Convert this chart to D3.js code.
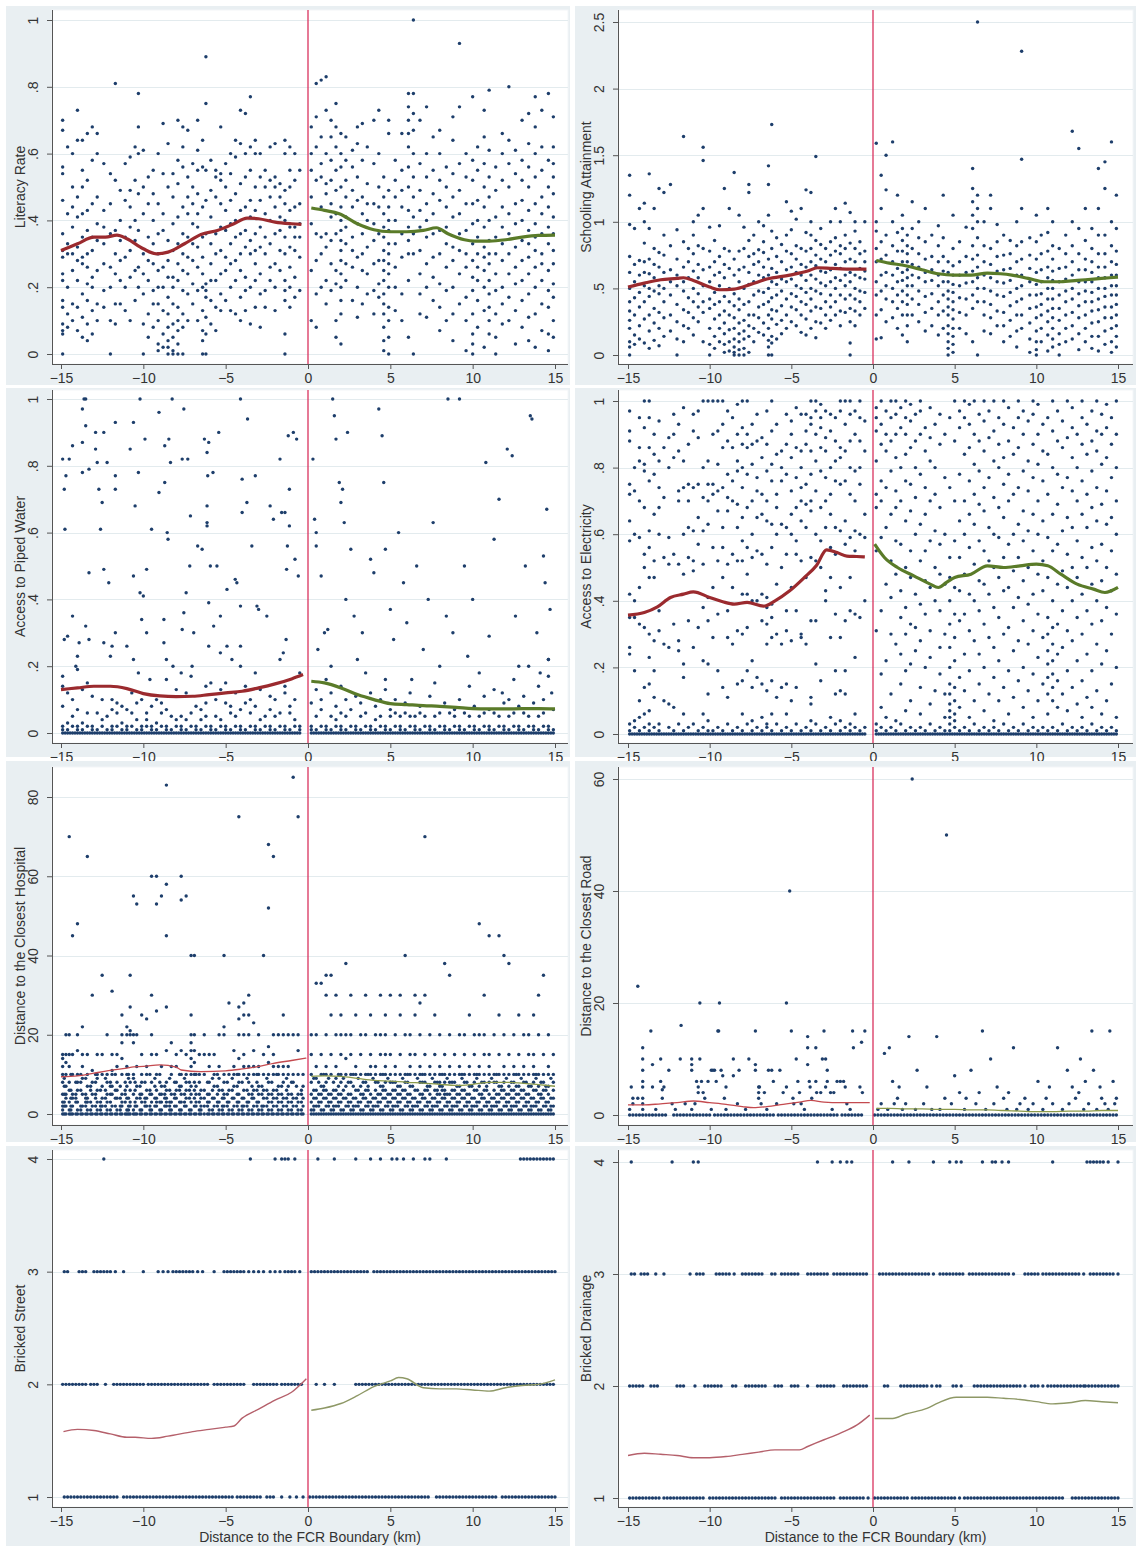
<!DOCTYPE html>
<html>
<head>
<meta charset="utf-8">
<script src="https://cdn.jsdelivr.net/npm/d3@7"></script>
<style>
body { margin: 0; background: #fff; }
text { font-family: "Liberation Sans", Arial, sans-serif; }
</style>
</head>
<body>
<svg id="chart" width="1138" height="1549"></svg>
<script>
// ---- data ----
var xTicks = [-15, -10, -5, 0, 5, 10, 15];

// column format: [x, y1, y2, ...]
var literacyLeft = [
[-14.9,0,.06,.07,.09,.14,.16,.22,.24,.29,.31,.36,.46,.54,.56,.67,.7],[-14.6,.08,.12,.2,.3,.33,.42,.62],[-14.3,.1,.15,.25,.3,.38,.44,.5,.6],
[-14.0,.07,.14,.22,.28,.32,.41,.47,.64,.73],[-13.7,.05,.11,.18,.27,.29,.35,.42,.5,.55,.64],[-13.4,.04,.09,.16,.21,.26,.3,.37,.43,.52,.66],
[-13.1,.06,.13,.2,.23,.31,.35,.45,.58,.68],[-12.8,.1,.15,.25,.34,.39,.47,.6,.66],[-12.4,.14,.19,.27,.33,.38,.43,.57],[-12.0,0,.1,.2,.26,.36,.45,.54],
[-11.7,.09,.15,.24,.3,.37,.52,.81],[-11.4,.15,.22,.28,.34,.4,.49],[-11.1,.13,.2,.29,.35,.46,.57],[-10.8,.1,.23,.31,.38,.44,.49,.59],
[-10.5,.16,.25,.34,.4,.52,.62],[-10.3,.2,.26,.37,.48,.6,.68,.78],[-10.0,0,.09,.18,.24,.3,.42,.5,.61],[-9.7,.05,.12,.22,.28,.35,.45,.53],
[-9.4,.08,.15,.19,.27,.33,.4,.48,.55],[-9.1,.01,.03,.1,.15,.2,.25,.3,.36,.45,.6],[-8.8,.02,.06,.13,.2,.26,.37,.42,.54,.69],
[-8.5,0,.02,.04,.08,.12,.17,.23,.28,.34,.5,.63],[-8.2,0,.01,.05,.09,.15,.2,.23,.31,.39,.47,.54],[-7.9,0,.03,.07,.1,.14,.22,.27,.33,.41,.51,.58,.7],
[-7.6,0,.08,.12,.19,.25,.3,.36,.44,.56,.62,.68],[-7.3,.1,.18,.24,.29,.35,.42,.47,.53,.67],[-7.0,.15,.21,.28,.33,.39,.45,.5,.57],
[-6.7,.1,.19,.26,.32,.38,.42,.48,.55,.61,.7],[-6.4,0,.04,.07,.13,.2,.24,.29,.35,.44,.56,.64],[-6.2,0,.06,.11,.17,.19,.21,.36,.46,.55,.75,.89],
[-5.9,.09,.16,.22,.27,.33,.41,.49,.58],[-5.6,.07,.14,.22,.3,.36,.47,.53,.55],[-5.3,.13,.18,.24,.31,.38,.45,.52,.54,.68],
[-5.0,.16,.25,.29,.37,.43,.5,.57],[-4.7,.13,.2,.27,.33,.39,.46,.54,.6],[-4.4,.12,.22,.28,.35,.4,.48,.59,.64],
[-4.1,.1,.17,.25,.3,.36,.43,.51,.63,.73],[-3.8,.13,.19,.23,.32,.37,.44,.53,.6,.72],[-3.5,.09,.2,.3,.34,.41,.46,.55,.62,.77],
[-3.2,.14,.22,.27,.31,.36,.43,.5,.6,.64],[-2.9,.08,.18,.24,.32,.38,.46,.53,.6],[-2.6,.14,.19,.3,.35,.42,.5,.55],
[-2.3,.22,.26,.33,.4,.47,.52,.62],[-2.0,.13,.2,.27,.36,.44,.5,.53,.63],[-1.7,.25,.31,.37,.41,.47,.51],
[-1.4,0,.06,.16,.19,.22,.3,.35,.4,.45,.49,.6,.64],[-1.1,.14,.2,.26,.32,.38,.43,.5,.55,.62],[-0.8,.17,.23,.31,.35,.38,.44,.52,.6],
[-0.5,.19,.29,.35,.39,.45,.55]
];
var literacyRight = [
[0.2,.1,.25,.39,.47,.55,.6,.68],[0.5,.08,.18,.28,.36,.52,.62,.71,.81],[0.8,.2,.3,.35,.44,.53,.57,.65,.82],
[1.1,.15,.22,.32,.36,.48,.51,.6,.73,.83],[1.4,.19,.27,.34,.41,.45,.52,.58,.65,.7],[1.7,.05,.1,.21,.25,.36,.42,.49,.55,.62,.68,.75],
[2.0,.03,.12,.16,.2,.24,.28,.31,.34,.37,.4,.44,.5,.56,.6,.66],[2.3,.22,.27,.33,.38,.41,.47,.52,.58,.65],[2.7,.16,.26,.31,.35,.44,.49,.56,.61],
[3.0,.11,.2,.29,.39,.46,.53,.63,.68],[3.3,.15,.25,.3,.36,.42,.47,.58,.69],[3.6,.18,.24,.32,.4,.45,.51,.62],
[4.0,.12,.19,.27,.34,.39,.45,.57,.7],[4.3,.17,.21,.28,.36,.44,.5,.6,.73],[4.6,.01,.04,.08,.12,.15,.18,.22,.25,.28,.31,.35,.38,.42,.47,.53],
[4.9,0,.05,.1,.14,.2,.24,.27,.3,.33,.37,.4,.44,.49,.66,.7],[5.3,.13,.2,.26,.33,.4,.47,.52,.58],[5.7,.1,.18,.29,.36,.44,.49,.55,.66],
[6.1,.05,.22,.3,.34,.38,.43,.5,.56,.62,.66,.7,.74,.78],[6.4,0,.3,.36,.41,.47,.53,.6,.67,.72,.78,1],[6.8,.12,.18,.24,.31,.38,.43,.49,.57,.7],
[7.2,.11,.2,.27,.35,.4,.45,.53,.6,.74],[7.6,.16,.23,.29,.36,.42,.48,.55,.65],[8.0,.07,.14,.21,.3,.37,.46,.52,.6,.67],
[8.4,.1,.19,.26,.33,.38,.44,.5,.56],[8.8,.04,.12,.2,.28,.32,.41,.47,.54,.64,.71],[9.2,.15,.24,.31,.36,.42,.49,.57,.74,.93],
[9.6,.01,.1,.17,.26,.3,.37,.45,.53,.6],[10.0,0,.03,.06,.12,.19,.23,.28,.33,.39,.45,.52,.58,.77],[10.3,.08,.16,.22,.26,.3,.35,.4,.46,.55,.62],
[10.7,.02,.13,.2,.25,.29,.32,.38,.44,.5,.57,.65,.73],[11.0,.06,.1,.14,.18,.22,.27,.3,.34,.4,.47,.53,.61,.79],[11.4,0,.05,.12,.19,.24,.3,.35,.41,.49,.56],
[11.8,.09,.15,.2,.28,.33,.38,.44,.52,.6,.66],[12.2,.1,.17,.24,.3,.36,.42,.5,.57,.64,.8],[12.6,.03,.13,.21,.26,.32,.39,.45,.54,.61],
[13.0,.08,.16,.22,.28,.34,.4,.46,.52,.58,.7],[13.4,.04,.11,.18,.24,.29,.33,.37,.43,.5,.56,.63,.72],[13.8,.02,.12,.2,.26,.31,.35,.39,.45,.53,.6,.68,.77],
[14.2,.07,.15,.22,.27,.3,.36,.42,.47,.55,.62,.73],[14.6,.01,.06,.14,.19,.25,.33,.38,.44,.5,.58,.78],[14.9,.05,.1,.17,.21,.27,.31,.36,.41,.48,.53,.57,.62,.71]
];
var literacySmoothL = [[-15,.31],[-14,.33],[-13,.35],[-12.3,.35],[-11.6,.356],[-11,.345],[-10,.315],[-9.2,.30],[-8.5,.305],[-7.5,.33],[-6.5,.358],[-5.5,.37],[-4.5,.39],[-3.7,.407],[-3,.405],[-2,.395],[-1,.39],[-0.4,.388]];
var literacySmoothR = [[0.2,.437],[1,.43],[1.9,.42],[3,.39],[4,.372],[5,.366],[6,.366],[7,.37],[7.8,.378],[8.5,.36],[9.5,.342],[10.1,.338],[11,.338],[12,.342],[13,.35],[14,.355],[15,.356]];

var schoolingLeft = [
[-14.9,0,.06,.1,.2,.26,.33,.4,.5,.62,.74,.98,1.2,1.35],[-14.6,.08,.15,.3,.43,.55,.68,.95],[-14.3,.12,.22,.36,.47,.6,.71,1.1],
[-14.0,.09,.27,.4,.52,.62,.7,.84,1.0,1.14],[-13.7,.05,.18,.3,.44,.5,.61,.72,.95,1.36],[-13.4,.11,.24,.35,.48,.58,.68,.8,1.1],
[-13.1,.07,.2,.32,.46,.52,.66,.77,1.25],[-12.8,.14,.28,.4,.5,.62,.75,.9,1.22],[-12.4,.18,.3,.45,.55,.64,.82,1.28],
[-12.0,0,.12,.25,.38,.52,.6,.72,.94],[-11.6,.1,.22,.34,.48,.55,.66,.85,1.64],[-11.3,.2,.32,.43,.58,.7,.8],
[-11.0,.15,.28,.4,.5,.63,.76,.9,1.0],[-10.7,.25,.36,.46,.58,.68,.82,1.05],[-10.4,.1,.32,.4,.52,.64,.8,1.1,1.46,1.56],
[-10.0,0,.08,.2,.35,.42,.55,.66,.78,.96],[-9.7,.05,.14,.27,.38,.47,.6,.7,.86],[-9.4,.1,.2,.3,.4,.52,.62,.74,.97],
[-9.1,.02,.08,.16,.24,.33,.44,.58,.68,.8,1.25],[-8.8,.03,.1,.19,.3,.4,.5,.65,.78,1.1],[-8.5,0,.02,.06,.12,.2,.28,.37,.46,.6,.72,1.37],
[-8.2,0,.04,.1,.16,.24,.34,.42,.55,.64,.78,1.05],[-7.9,0,.05,.12,.18,.26,.38,.5,.66,.8,.96],[-7.6,.02,.14,.22,.3,.4,.53,.62,.74,.86,1.22,1.28],
[-7.3,.1,.2,.3,.45,.55,.68,.76,.9],[-7.0,.17,.28,.36,.48,.6,.7,.79,1.0],[-6.7,.15,.24,.38,.47,.58,.66,.77,.85,.97],
[-6.4,0,.06,.11,.2,.3,.4,.5,.6,.72,1.05,1.28,1.42],[-6.2,0,.09,.14,.27,.34,.43,.55,.65,.8,.93,1.73],[-5.9,.12,.23,.33,.45,.53,.62,.74,.88],
[-5.6,.16,.26,.37,.48,.57,.7,.83],[-5.3,.2,.3,.42,.55,.64,.78,.9,1.15],[-5.0,.25,.36,.46,.57,.66,.76,.94,1.08],
[-4.7,.22,.34,.44,.52,.62,.72,.82,1.02],[-4.4,.17,.3,.4,.5,.6,.68,.8,1.1],[-4.1,.15,.27,.38,.47,.56,.66,.78,.92,1.24],
[-3.8,.2,.33,.42,.5,.6,.7,.8,.9,1.0,1.22],[-3.5,.13,.25,.36,.48,.57,.67,.75,.86,1.49],[-3.2,.24,.35,.46,.54,.63,.72,.83,.95],
[-2.9,.2,.3,.4,.52,.62,.7,.8],[-2.6,.26,.36,.45,.55,.64,.75,.85,1.0],[-2.3,.3,.4,.5,.58,.68,.78,.88,1.1],
[-2.0,.22,.33,.45,.56,.65,.76,.82,1.0],[-1.7,.32,.42,.52,.6,.7,.8,.9,1.14],[-1.4,0,.09,.25,.35,.45,.55,.62,.72,.84,1.07],
[-1.1,.22,.33,.42,.5,.6,.7,.8,.93,1.0],[-0.8,.3,.4,.48,.58,.65,.76,.85],[-0.5,.35,.47,.57,.63,.7,.78,1.0]
];
var schoolingRight = [
[0.2,.12,.3,.45,.55,.7,.8,.93,1.0,1.59],[0.5,.13,.34,.48,.6,.72,.85,1.1,1.35],[0.8,.25,.42,.52,.62,.75,.9,1.24,1.5],
[1.2,.28,.4,.5,.6,.7,.82,1.0,1.6],[1.5,.2,.35,.45,.55,.65,.78,.92,1.2],[1.8,.15,.3,.4,.48,.56,.62,.7,.78,.86,.95,1.05],
[2.1,.1,.22,.3,.38,.45,.52,.58,.64,.7,.76,.82,.9],[2.4,.3,.42,.52,.6,.68,.8,.95,1.15],[2.8,.25,.38,.48,.58,.66,.76,.88,1.0],
[3.2,.18,.32,.44,.55,.62,.72,.85,1.1],[3.6,.22,.35,.46,.56,.64,.74,.9],[4.0,.15,.3,.4,.52,.6,.7,.82,.97],
[4.3,.2,.33,.45,.55,.63,.74,.88,1.2],[4.6,0,.05,.1,.16,.22,.3,.36,.42,.48,.55,.62,.7],[4.9,.02,.08,.14,.2,.27,.34,.4,.47,.53,.6,.67,.8,1.05],
[5.3,.2,.32,.43,.52,.6,.7,.85],[5.7,.16,.3,.42,.54,.62,.74,.96],[6.1,.1,.35,.45,.55,.63,.72,.82,.95,1.05,1.15,1.25,1.4],
[6.4,0,.4,.5,.58,.66,.75,.88,1.0,1.1,1.2,2.5],[6.8,.18,.3,.4,.5,.6,.7,.82,1.0],[7.2,.16,.28,.38,.48,.58,.68,.8,1.1,1.2],
[7.6,.22,.33,.45,.55,.63,.74,.85,.98],[8.0,.1,.22,.32,.44,.54,.64,.75,.9],[8.4,.14,.26,.37,.47,.56,.65,.76,.86],
[8.8,.06,.18,.3,.4,.5,.6,.7,.82,1.0],[9.1,.2,.3,.42,.52,.6,.72,.85,1.1,1.47,2.28],[9.6,.02,.12,.24,.35,.45,.55,.65,.75,.88],
[10.0,0,.04,.1,.18,.28,.36,.45,.53,.62,.72,.85,1.05],[10.3,.1,.2,.3,.38,.46,.55,.64,.76,.9],[10.7,.03,.15,.25,.33,.42,.5,.58,.66,.78,.92,1.1],
[11.0,.06,.12,.2,.28,.35,.42,.5,.56,.63,.72,.82,1.0],[11.4,0,.08,.16,.26,.35,.45,.55,.65,.8],[11.8,.1,.2,.3,.4,.48,.57,.66,.76,.9],
[12.2,.12,.22,.32,.42,.5,.6,.7,.82,1.0,1.68],[12.6,.04,.16,.28,.37,.46,.55,.64,.76,.95,1.55],[13.0,.1,.2,.3,.4,.48,.55,.64,.72,.86,1.1],
[13.4,.05,.14,.24,.33,.4,.47,.55,.62,.7,.8,.95],[13.8,.03,.14,.25,.34,.42,.5,.58,.66,.76,.9,1.1,1.4],[14.2,.08,.18,.28,.36,.44,.5,.58,.66,.76,.9,1.25,1.45],
[14.6,.02,.1,.2,.28,.36,.45,.52,.6,.7,.82,1.0,1.6],[14.9,.06,.14,.22,.3,.38,.45,.52,.6,.68,.78,.95,1.2]
];
var schoolingSmoothL = [[-15,.51],[-14,.54],[-13,.565],[-12,.575],[-11.6,.58],[-11,.56],[-10,.51],[-9.4,.49],[-8.5,.495],[-7.5,.53],[-6.5,.57],[-5.1,.6],[-4,.63],[-3.4,.655],[-2.5,.65],[-1.5,.645],[-0.4,.645]];
var schoolingSmoothR = [[0.2,.71],[1,.69],[2,.67],[3,.64],[4,.61],[5,.6],[6,.6],[7,.615],[7.8,.61],[8.5,.6],[9.5,.575],[10.5,.55],[11.5,.55],[12.5,.56],[13.5,.57],[14.5,.58],[15,.585]];

// piped water: scattered points [x, y] plus dense low band in column format
var pipedLeft = [
[-14.9,.82],[-14.8,.73],[-14.7,.77],[-14.76,.61],[-14.8,.28],[-14.6,.29],[-14.9,.17],[-14.5,.82],[-14.3,.86],[-14.3,.35],[-14.1,.2],[-14.0,.23],[-13.9,.27],
[-13.7,.97],[-13.6,1],[-13.5,1],[-13.7,.87],[-13.5,.92],[-13.7,.78],[-13.3,.79],[-13.3,.48],[-13.5,.32],[-13.3,.28],[-12.9,.9],[-12.9,.85],[-12.8,.81],
[-12.7,.73],[-12.6,.61],[-12.5,.69],[-12.4,.9],[-12.4,.49],[-12.4,.27],[-12.2,.81],[-12.1,.45],[-11.7,.93],[-11.7,.77],[-11.7,.73],[-11.9,.26],[-12.0,.23],
[-11.7,.3],[-11.0,.26],[-10.8,.85],[-10.6,.93],[-10.5,.68],[-10.6,.47],[-10.6,.22],[-10.2,1],[-10.3,.78],[-10.2,.42],[-10.0,.41],[-9.9,.88],[-9.8,.49],
[-9.8,.3],[-10.1,.34],[-10.3,.18],[-9.5,.61],[-9.6,.16],[-9.05,.96],[-9.05,.72],[-8.7,.86],[-8.45,.88],[-8.55,.6],[-8.5,.58],[-8.7,.75],[-8.75,.34],
[-8.75,.27],[-8.25,1],[-8.35,.81],[-8.2,.2],[-8.6,.22],[-7.64,.82],[-7.3,.82],[-7.54,.97],[-7.4,.42],[-7.54,.36],[-7.64,.31],[-7.14,.65],[-7.18,.5],
[-7.04,.2],[-6.94,.3],[-6.7,.56],[-6.43,.55],[-6.29,.88],[-6.03,.87],[-6.13,.84],[-6.09,.77],[-6.13,.68],[-6.13,.63],[-6.13,.62],[-5.93,.5],[-6.03,.39],
[-6.03,.26],[-5.73,.32],[-5.77,.78],[-5.42,.9],[-5.53,.5],[-5.32,.24],[-5.32,.35],[-4.92,.43],[-4.92,.26],[-4.62,.22],[-4.42,.46],[-4.32,.45],[-4.1,1],
[-4.1,.38],[-4.0,.76],[-4.0,.66],[-4.1,.26],[-3.67,.94],[-3.71,.69],[-3.41,.56],[-3.2,.77],[-3.1,.38],[-3.0,.37],[-2.5,.35],[-2.3,.68],[-2.1,.64],
[-1.7,.82],[-1.6,.66],[-1.4,.66],[-1.3,.49],[-1.25,.56],[-1.33,.28],[-1.2,.89],[-0.89,.9],[-0.69,.88],[-1.13,.73],[-1.13,.62],[-1.5,.24],[-0.79,.52],[-0.59,.47]
];
var pipedRight = [
[0.3,.82],[0.4,.64],[0.5,.6],[0.5,.56],[0.8,.47],[1.0,.3],[1.2,.31],[0.6,.25],[1.4,.2],[1.5,1],[1.6,.95],[1.7,.88],[1.9,.75],[2.1,.73],[2.0,.69],
[2.2,.63],[2.4,.9],[2.6,.55],[2.3,.4],[2.8,.35],[3.0,.22],[3.3,.3],[3.5,.18],[3.8,.52],[4.0,.48],[4.3,.97],[4.5,.89],[4.7,.55],[4.6,.75],[5.0,.37],
[5.2,.28],[5.5,.6],[5.8,.45],[6.0,.33],[6.3,.16],[6.6,.5],[7.0,.25],[7.3,.4],[7.6,.63],[8.0,.2],[8.4,.35],[8.5,1],[8.8,.3],[9.2,1],[9.5,.5],
[9.7,.23],[10.0,.4],[10.4,.18],[10.8,.81],[11.0,.29],[11.3,.58],[11.6,.7],[11.8,.12],[12.1,.85],[12.4,.83],[12.6,.35],[12.8,.2],[13.2,.5],[13.5,.95],
[13.6,.94],[13.9,.3],[14.1,.18],[14.3,.53],[14.4,.45],[14.5,.67],[14.6,.22],[14.7,.37],[14.8,.12]
];
var pipedLowLeft = [
[-14.9,0,.01,.02,.08,.14],[-14.6,0,.01,.03,.12],[-14.3,0,.02,.05,.1],[-14.0,0,.01,.02,.07,.19],[-13.7,0,.01,.03,.13],[-13.4,0,.02,.06,.15],
[-13.1,0,.01,.02,.11],[-12.8,0,.01,.06],[-12.5,0,.02,.04,.1],[-12.2,0,.01,.05],[-11.9,0,.01,.02,.07,.1],[-11.6,0,.02,.06,.09],
[-11.3,0,.01,.03,.08],[-11.0,0,.01,.02,.07],[-10.7,0,.02,.06,.12],[-10.4,0,.01,.04,.09],[-10.1,0,.01,.02,.1],[-9.8,0,.02,.04,.06],
[-9.5,0,.01,.02,.08],[-9.2,0,.01,.03,.1],[-8.9,0,.02,.06,.09],[-8.6,0,.01,.02,.07,.16],[-8.3,0,.01,.05],[-8.0,0,.02,.04,.13],
[-7.7,0,.01,.02,.05,.18],[-7.4,0,.01,.04,.12],[-7.1,0,.02,.06,.17],[-6.8,0,.01,.02,.08],[-6.5,0,.01,.04,.07],[-6.2,0,.02,.05,.09,.14],
[-5.9,0,.01,.02,.15],[-5.6,0,.01,.05,.1],[-5.3,0,.02,.04,.13],[-5.0,0,.01,.02,.09,.15],[-4.7,0,.01,.06,.08],[-4.4,0,.02,.05,.12],
[-4.1,0,.01,.02,.07,.2],[-3.8,0,.01,.09,.14],[-3.5,0,.02,.06,.1],[-3.2,0,.01,.02,.08,.18],[-2.9,0,.01,.04,.13],[-2.6,0,.02,.05],
[-2.3,0,.01,.02,.07,.11],[-2.0,0,.01,.05,.1],[-1.7,0,.02,.06,.22],[-1.4,0,.01,.02,.12,.14],[-1.1,0,.01,.06,.08],[-0.8,0,.02,.04,.1],
[-0.5,0,.01,.02,.18]
];
var pipedLowRight = [
[0.2,0,.01,.02,.09],[0.5,0,.01,.05,.13],[0.8,0,.02,.07,.1],[1.1,0,.01,.02,.16],[1.4,0,.01,.05,.12],[1.7,0,.02,.04,.08],
[2.0,0,.01,.02,.06,.14],[2.3,0,.01,.05,.1],[2.6,0,.02,.07],[2.9,0,.01,.02,.11],[3.2,0,.01,.05,.09],[3.5,0,.02,.06],
[3.8,0,.01,.02,.12],[4.1,0,.01,.04,.08],[4.4,0,.02,.05,.1],[4.7,0,.01,.02,.13,.16],[5.0,0,.01,.05,.07],[5.3,0,.02,.06,.1],
[5.6,0,.01,.02,.05],[5.9,0,.01,.06,.09],[6.2,0,.02,.05,.12],[6.5,0,.01,.02,.05],[6.8,0,.01,.06,.08],[7.1,0,.02,.05],
[7.4,0,.01,.02,.11],[7.7,0,.01,.05,.15],[8.0,0,.02,.06],[8.3,0,.01,.02,.09],[8.6,0,.01,.06],[8.9,0,.02,.05,.07],
[9.2,0,.01,.02,.1],[9.5,0,.01,.06],[9.8,0,.02,.05,.14],[10.1,0,.01,.02,.08],[10.4,0,.01,.05],[10.7,0,.02,.06,.11],
[11.0,0,.01,.02,.07],[11.3,0,.01,.06,.13],[11.6,0,.02,.05],[11.9,0,.01,.02,.09],[12.2,0,.01,.05,.1],[12.5,0,.02,.06,.16],
[12.8,0,.01,.02,.08],[13.1,0,.01,.06,.11],[13.4,0,.02,.05,.2],[13.7,0,.01,.02,.09],[14.0,0,.01,.05,.14],[14.3,0,.02,.06,.1],
[14.6,0,.01,.02,.17,.22],[14.9,0,.01,.07]
];
var pipedZeroLeft = [-14.75,-14.45,-14.15,-13.85,-13.55,-13.25,-12.95,-12.65,-12.35,-12.05,-11.75,-11.45,-11.15,-10.85,-10.55,-10.25,-9.95,-9.65,-9.35,-9.05,-8.75,-8.45,-8.15,-7.85,-7.55,-7.25,-6.95,-6.65,-6.35,-6.05,-5.75,-5.45,-5.15,-4.85,-4.55,-4.25,-3.95,-3.65,-3.35,-3.05,-2.75,-2.45,-2.15,-1.85,-1.55,-1.25,-0.95,-0.65];
var pipedZeroRight = [0.35,0.65,0.95,1.25,1.55,1.85,2.15,2.45,2.75,3.05,3.35,3.65,3.95,4.25,4.55,4.85,5.15,5.45,5.75,6.05,6.35,6.65,6.95,7.25,7.55,7.85,8.15,8.45,8.75,9.05,9.35,9.65,9.95,10.25,10.55,10.85,11.15,11.45,11.75,12.05,12.35,12.65,12.95,13.25,13.55,13.85,14.15,14.45,14.75];
var pipedSmoothL = [[-15,.13],[-14,.135],[-13,.14],[-12,.14],[-11,.133],[-10,.118],[-9,.111],[-8,.109],[-7,.11],[-6,.115],[-5,.12],[-4,.125],[-3,.135],[-2,.147],[-1,.162],[-0.3,.175]];
var pipedSmoothR = [[0.2,.155],[1,.15],[2,.135],[3,.115],[4,.1],[5,.088],[6,.085],[7,.082],[8,.08],[9,.077],[10,.073],[11,.072],[12,.072],[13,.073],[14,.073],[15,.072]];

var electricityLeft = [
[-14.9,0,.01,.03,.24,.26,.35,.42,.58,.64,.72,.75,.88,.91,.97],[-14.6,0,.02,.04,.19,.35,.4,.6,.73,.8],[-14.3,0,.01,.05,.1,.33,.44,.59,.7,.82,.86,.95],
[-14.0,0,.02,.06,.14,.32,.5,.54,.68,.79,.81,.92,1],[-13.7,0,.01,.03,.07,.15,.23,.3,.47,.56,.61,.76,.86,.95,1],[-13.4,0,.02,.11,.19,.28,.47,.52,.66,.78,.84,.9],
[-13.1,0,.01,.03,.31,.37,.6,.68,.74,.82,.94],[-12.8,0,.1,.27,.53,.71,.86],[-12.5,0,.02,.09,.26,.51,.59,.8,.89],
[-12.2,0,.01,.08,.33,.54,.83,.9,.96],[-11.9,0,.03,.25,.28,.51,.7,.73,.85,.93],[-11.6,0,.01,.06,.17,.21,.48,.6,.74,.82,.98],
[-11.3,0,.02,.34,.53,.62,.7,.75,.87],[-11.0,0,.03,.26,.49,.52,.61,.74,.91,.96],[-10.7,0,.01,.32,.57,.65,.75,.89,.97],
[-10.4,0,.02,.06,.22,.38,.51,.61,.71,.8,1],[-10.1,0,.01,.04,.12,.21,.34,.41,.63,.7,.75,.82,1],[-9.8,0,.01,.29,.44,.56,.72,.75,.9,1],
[-9.5,0,.02,.19,.36,.52,.67,.73,.81,.91,1],[-9.2,0,.01,.14,.47,.56,.62,.74,.86,.93,1],[-8.9,0,.03,.11,.29,.37,.51,.67,.71,.78,.88,.97],
[-8.6,0,.01,.27,.44,.54,.7,.76,.86,.95],[-8.3,0,.02,.15,.31,.52,.62,.69,.79,.82,.9,.99],[-8.0,0,.01,.06,.16,.3,.42,.52,.58,.65,.74,.8,.87,.92,1],
[-7.7,0,.03,.19,.32,.42,.48,.56,.68,.78,.86,.9,1],[-7.4,0,.01,.04,.14,.22,.4,.53,.6,.7,.81,.87,.93],[-7.1,0,.02,.17,.4,.55,.65,.73,.77,.88,.96],
[-6.8,0,.01,.05,.15,.34,.42,.54,.66,.72,.83,.89],[-6.5,0,.02,.03,.13,.27,.33,.38,.41,.51,.64,.7,.79,.87,.97],[-6.2,0,.01,.06,.16,.29,.35,.39,.56,.63,.76,.81,.91,1],
[-5.9,0,.03,.11,.3,.45,.6,.68,.72,.84,.93],[-5.6,0,.01,.14,.27,.5,.63,.76,.8,.85],[-5.3,0,.02,.06,.15,.31,.37,.54,.62,.78,.87,.96],
[-5.0,0,.01,.1,.28,.44,.6,.66,.73,.83,.9,.94],[-4.7,0,.03,.14,.37,.54,.58,.68,.77,.86,.98],[-4.4,0,.01,.29,.3,.52,.64,.7,.74,.8,.85,.96],
[-4.1,0,.02,.27,.47,.62,.69,.75,.87,.91,.96],[-3.8,0,.01,.04,.09,.11,.34,.53,.67,.7,.78,.85,.93,.95,1],[-3.5,0,.03,.21,.34,.52,.6,.73,.82,.9,.97,1],
[-3.2,0,.01,.16,.5,.58,.68,.79,.86,.92,.95,.99],[-2.9,0,.02,.4,.43,.62,.7,.77,.85,.89,.97],[-2.6,0,.01,.05,.29,.47,.56,.66,.72,.8,.91,.96],
[-2.3,0,.03,.12,.19,.36,.54,.62,.76,.82,.88,.95],[-2.0,0,.01,.04,.13,.29,.44,.61,.75,.83,.86,.97,1],[-1.7,0,.02,.12,.19,.34,.57,.64,.76,.85,.93,1],
[-1.4,0,.01,.03,.37,.47,.59,.72,.8,.88,.96,1],[-1.1,0,.02,.06,.23,.36,.55,.61,.7,.79,.9,.97],[-0.8,0,.01,.35,.6,.75,.8,.88,.95,1],
[-0.5,0,.02,.4,.59,.66,.85,.94]
];
var electricityRight = [
[0.2,0,.01,.03,.31,.55,.68,.72,.82,.91,.95,.98],[0.5,0,.02,.08,.18,.37,.59,.7,.76,.87,.93,1],[0.8,0,.01,.05,.22,.45,.62,.74,.85,.9,.97],
[1.1,0,.02,.12,.3,.41,.52,.66,.79,.88,.95,1],[1.4,0,.01,.04,.27,.48,.58,.68,.73,.83,.9,.96,1],[1.7,0,.03,.15,.24,.35,.43,.57,.7,.8,.92,.98],
[2.0,0,.01,.07,.19,.3,.38,.5,.64,.76,.84,.9,.95,1],[2.3,0,.02,.1,.21,.33,.47,.55,.67,.75,.86,.94,.99],[2.6,0,.01,.25,.32,.42,.6,.71,.8,.88,.96],
[2.9,0,.02,.06,.14,.28,.39,.52,.63,.78,.9,.97,1],[3.2,0,.01,.2,.36,.46,.55,.66,.74,.85,.92],[3.5,0,.03,.09,.23,.31,.44,.58,.7,.82,.89,.98],
[3.8,0,.01,.13,.4,.5,.61,.72,.8,.93],[4.1,0,.02,.18,.26,.37,.48,.57,.68,.87,.96],[4.4,0,.01,.05,.12,.3,.45,.6,.77,.9],
[4.7,0,.01,.03,.05,.07,.09,.12,.15,.2,.26,.33,.4,.47,.53,.74,.95],[5.0,0,.02,.04,.06,.1,.14,.22,.29,.36,.44,.58,.7,.88,1],[5.3,0,.01,.08,.17,.34,.43,.53,.64,.78,.92,.97],
[5.6,0,.02,.13,.24,.36,.48,.6,.7,.84,.95,1],[5.9,0,.01,.05,.19,.31,.42,.56,.66,.76,.86,.93,.99],[6.2,0,.03,.1,.28,.4,.51,.63,.72,.81,.9,1],
[6.5,0,.01,.15,.24,.37,.46,.58,.69,.79,.88,.96],[6.8,0,.02,.07,.2,.33,.45,.55,.67,.74,.85,.94,1],[7.1,0,.01,.12,.29,.42,.52,.62,.77,.89,.97],
[7.4,0,.02,.04,.17,.26,.38,.5,.6,.71,.82,.91,1],[7.7,0,.01,.1,.22,.35,.47,.59,.68,.8,.87,.95],[8.0,0,.03,.14,.3,.43,.53,.65,.75,.83,.93,1],
[8.3,0,.01,.06,.19,.32,.44,.57,.7,.78,.88,.98],[8.6,0,.02,.11,.25,.38,.49,.6,.72,.84,.92],[8.9,0,.01,.16,.28,.41,.53,.63,.74,.86,.95,1],
[9.2,0,.03,.08,.2,.34,.46,.58,.67,.79,.9,.97],[9.5,0,.01,.13,.27,.39,.5,.61,.73,.82,.94],[9.8,0,.02,.05,.18,.31,.42,.55,.66,.77,.87,.96,1],
[10.1,0,.01,.1,.23,.36,.48,.6,.7,.81,.9,.99],[10.4,0,.02,.15,.29,.43,.52,.64,.76,.85,.93],[10.7,0,.01,.06,.12,.17,.21,.25,.3,.35,.47,.59,.72,.84,.95],
[11.0,0,.02,.1,.14,.18,.22,.27,.32,.4,.55,.66,.8,.91,1],[11.3,0,.01,.08,.16,.24,.33,.45,.57,.69,.78,.88,.97],[11.6,0,.03,.12,.26,.37,.49,.61,.74,.86,.94],
[11.9,0,.01,.07,.19,.31,.44,.54,.65,.77,.89,1],[12.2,0,.02,.14,.28,.4,.5,.62,.73,.83,.92,.98],[12.5,0,.01,.09,.22,.35,.47,.58,.7,.8,.9],
[12.8,0,.02,.05,.16,.3,.42,.53,.66,.76,.87,.95,1],[13.1,0,.01,.11,.24,.37,.5,.62,.72,.84,.93],[13.4,0,.03,.08,.19,.33,.45,.56,.68,.79,.88,.97],
[13.7,0,.01,.13,.27,.4,.52,.64,.74,.85,.91,1],[14.0,0,.02,.06,.21,.34,.46,.57,.69,.81,.9,.96],[14.3,0,.01,.1,.25,.38,.5,.63,.73,.83,.92,.99],
[14.6,0,.02,.15,.3,.43,.55,.65,.77,.87,.95],[14.9,0,.01,.05,.2,.36,.48,.6,.7,.8,.9,1]
];
var electricityZeroLeft = [-14.75,-14.45,-14.15,-13.85,-13.55,-13.25,-12.95,-12.65,-12.35,-12.05,-11.75,-11.45,-11.15,-10.85,-10.55,-10.25,-9.95,-9.65,-9.35,-9.05,-8.75,-8.45,-8.15,-7.85,-7.55,-7.25,-6.95,-6.65,-6.35,-6.05,-5.75,-5.45,-5.15,-4.85,-4.55,-4.25,-3.95,-3.65,-3.35,-3.05,-2.75,-2.45,-2.15,-1.85,-1.55,-1.25,-0.95,-0.65];
var electricityZeroRight = [0.35,0.65,0.95,1.25,1.55,1.85,2.15,2.45,2.75,3.05,3.35,3.65,3.95,4.25,4.55,4.85,5.15,5.45,5.75,6.05,6.35,6.65,6.95,7.25,7.55,7.85,8.15,8.45,8.75,9.05,9.35,9.65,9.95,10.25,10.55,10.85,11.15,11.45,11.75,12.05,12.35,12.65,12.95,13.25,13.55,13.85,14.15,14.45,14.75];
var electricitySmoothL = [[-15,.357],[-14,.365],[-13.2,.382],[-12.4,.41],[-11.6,.42],[-11,.427],[-10,.41],[-9.2,.397],[-8.5,.39],[-7.7,.395],[-6.7,.384],[-6,.4],[-5.1,.43],[-4.2,.47],[-3.45,.507],[-2.84,.553],[-2.2,.545],[-1.6,.534],[-1,.533],[-0.5,.532]];
var electricitySmoothR = [[0.1,.57],[0.7,.53],[1.5,.5],[2.5,.475],[3.5,.45],[4,.44],[4.5,.455],[5,.47],[6,.48],[7,.505],[8,.5],[9,.505],[10,.51],[10.7,.505],[11.5,.48],[12.5,.45],[13.5,.435],[14.2,.425],[15,.44]];

var hospitalLeft = [
[-14.9,0,1,2,3,5,8,10,12,14,15],[-14.7,0,2,4,5,7,10,13,15,20],[-14.5,0,1,3,6,8,12,15,20,70],[-14.3,0,2,4,5,10,15,45],
[-14.0,0,1,3,6,8,10,16,20,48],[-13.7,0,2,5,9,12,15,22],[-13.4,0,1,3,4,7,10,15,65],[-13.1,0,2,5,8,11,30],
[-12.8,0,1,3,6,9,10,15],[-12.5,0,2,4,7,10,15,35],[-12.2,0,1,3,5,8,10,20],[-11.9,0,2,5,7,10,11,15,31],
[-11.6,0,1,4,6,8,12,15],[-11.3,0,2,3,5,10,14,18,20,25],[-11.0,0,1,4,7,10,12,20,22],[-10.8,0,2,3,6,8,20,21,27,35],
[-10.6,0,1,5,9,10,18,20,55],[-10.4,0,2,4,7,12,20,53],[-10.1,0,1,3,5,8,10,15,25],[-9.8,0,2,4,6,10,12,24],
[-9.5,0,1,3,5,8,15,20,30,60],[-9.2,0,2,3,4,6,10,15,26,53,60],[-8.9,0,1,3,5,7,12,55],[-8.6,0,2,3,4,6,8,16,27,45,58,83],
[-8.3,0,1,3,5,10,12,18],[-8.0,0,2,4,6,8,12,15],[-7.7,0,1,3,5,7,10,16,54,60],[-7.4,0,2,4,6,8,10,15,55],
[-7.1,0,1,3,5,7,10,12,14,16,18,20,25,40],[-6.9,0,2,4,6,8,10,13,16,20,40],[-6.6,0,1,3,5,8,10,15],[-6.3,0,2,4,6,10,15,20],
[-6.0,0,1,3,5,8,12,15],[-5.7,0,2,4,7,10,15],[-5.4,0,1,3,6,9,12,20],[-5.1,0,2,4,5,8,10,20,22,40],
[-4.8,0,1,3,6,10,28],[-4.5,0,2,4,7,10,12,16],[-4.2,0,1,3,5,8,10,14,20,24,27,75],[-3.9,0,2,4,6,10,12,15,20,25,28],
[-3.6,0,1,3,5,8,10,12,20,25,30],[-3.3,0,2,4,6,10,12,16,23],[-3.0,0,1,3,5,7,10,12,20],[-2.7,0,2,4,6,10,15,40],
[-2.4,0,1,3,5,8,10,13,17,52,68],[-2.1,0,2,4,6,10,12,15,20,65],[-1.8,0,1,3,5,7,10,12,20],[-1.5,0,2,4,8,10,12,20,25],
[-1.2,0,1,3,5,7,10,12,20],[-0.9,0,2,4,8,10,20,85],[-0.6,0,1,3,5,10,16,20,75],[-0.3,0,2,4,7,10]
];
var hospitalDenseLeft = [
[-14.8,0,2,3,5,7,9],[-14.4,0,1,2,4,6,10],[-14.1,0,3,4,5,8],[-13.8,0,1,2,6,8,10],[-13.5,0,2,3,4,5,9],[-13.2,0,1,3,6,7],[-12.9,0,2,4,5,8,10],
[-12.6,0,1,2,3,6],[-12.3,0,2,4,6,9],[-12.0,0,1,3,5,7,8],[-11.7,0,2,4,6,10],[-11.4,0,1,2,4,7],[-11.1,0,3,5,6,8],[-10.9,0,1,2,4,9,10],
[-10.5,0,2,3,6,8],[-10.2,0,1,4,5,7],[-9.9,0,2,3,4,8],[-9.6,0,1,2,5,6,10],[-9.3,0,2,4,7,9],[-9.0,0,1,3,5,8,10],[-8.7,0,2,4,5,7],
[-8.4,0,1,2,3,6,9],[-8.1,0,2,4,5,8],[-7.8,0,1,3,6,7,10],[-7.5,0,2,3,5,9],[-7.2,0,1,4,6,8],[-6.8,0,2,3,5,7,10],[-6.5,0,1,2,4,6],
[-6.1,0,2,3,5,8],[-5.8,0,1,4,6,9],[-5.5,0,2,3,5,7,10],[-5.2,0,1,2,4,6],[-4.9,0,2,3,5,8],[-4.6,0,1,4,6,9],[-4.3,0,2,3,5,7,10],
[-4.0,0,1,2,4,8],[-3.7,0,2,3,6,9],[-3.4,0,1,4,5,7],[-3.1,0,2,3,6,8,10],[-2.8,0,1,2,5,7],[-2.5,0,2,4,6,9],[-2.2,0,1,3,5,8],
[-1.9,0,2,4,6,10],[-1.6,0,1,3,5,7],[-1.3,0,2,4,6,9],[-1.0,0,1,3,5,8],[-0.7,0,2,4,7],[-0.4,0,1,3,5,6]
];
var hospitalRight = [
[0.2,0,1,3,5,8,10,15,20],[0.5,0,2,4,6,9,12,20,33],[0.8,0,1,3,5,7,10,15,33],[1.1,0,2,4,6,8,10,12,20,30,35],
[1.4,0,1,3,5,10,15,25,35],[1.7,0,2,4,6,9,12,20,30],[2.0,0,1,3,5,8,10,15,20,25],[2.3,0,2,4,7,10,14,20,38],
[2.6,0,1,3,5,8,10,15,20,30],[2.9,0,2,4,6,10,12,25],[3.2,0,1,3,5,7,10,15,20],[3.5,0,2,4,6,8,10,20,30],
[3.8,0,1,3,5,10,12,15,25],[4.1,0,2,4,6,8,10,12,20],[4.4,0,1,3,5,7,10,15,20,30],[4.7,0,2,4,6,8,10,12,15,20,25],
[5.0,0,1,3,5,8,10,15,30],[5.3,0,2,4,6,8,10,12,20],[5.6,0,1,3,5,7,10,15,25,30],[5.9,0,2,4,6,8,10,20,40],
[6.2,0,1,3,5,7,10,12,15,20],[6.5,0,2,4,6,10,15,25,30],[6.8,0,1,3,5,8,10,12,20,28],[7.1,0,2,4,6,8,10,15,30,70],
[7.4,0,1,3,5,7,10,12,20],[7.7,0,2,4,6,8,10,15,25],[8.0,0,1,3,5,7,8,10,12,20],[8.3,0,2,4,5,6,8,10,15,38],
[8.6,0,1,3,5,8,10,12,20,35],[8.9,0,2,4,6,8,10,15],[9.2,0,1,3,5,7,10,12,20],[9.5,0,2,4,6,8,10,15,20],
[9.8,0,1,3,5,7,10,12,25],[10.1,0,2,4,6,8,10,15,20],[10.4,0,1,3,5,7,10,12,20,48],[10.7,0,2,4,6,8,10,15,20,30],
[11.0,0,1,3,5,8,10,12,15,45],[11.3,0,2,4,6,8,10,20],[11.6,0,1,3,5,7,10,15,25,45],[11.9,0,2,4,6,8,10,12,20,40],
[12.2,0,1,3,5,7,10,15,38],[12.5,0,2,4,6,8,10,12,20],[12.8,0,1,3,5,7,10,15,25],[13.1,0,2,4,6,8,10,12,20],
[13.4,0,1,3,5,7,10,15,20],[13.7,0,2,4,6,8,10,12,15,25],[14.0,0,1,3,5,7,10,20,30],[14.3,0,2,4,6,8,10,15,35],
[14.6,0,1,3,5,7,10,12,20],[14.9,0,2,4,6,8,10,15]
];
var hospitalDenseRight = [
[0.35,0,1,2,4,6,9],[0.65,0,2,3,5,8],[0.95,0,1,4,6,7,10],[1.25,0,2,3,5,9],[1.55,0,1,2,4,6,8],[1.85,0,2,3,5,7,10],[2.15,0,1,4,6,9],
[2.45,0,2,3,5,8],[2.75,0,1,2,4,7,10],[3.05,0,2,3,6,9],[3.35,0,1,4,5,8],[3.65,0,2,3,6,7,10],[3.95,0,1,2,4,9],[4.25,0,2,3,5,8],
[4.55,0,1,4,6,7,10],[4.85,0,2,3,5,9],[5.15,0,1,2,4,6,8],[5.45,0,2,3,5,7],[5.75,0,1,4,6,9],[6.05,0,2,3,5,8,10],[6.35,0,1,2,4,7],
[6.65,0,2,3,6,9],[6.95,0,1,4,5,8,10],[7.25,0,2,3,6,7],[7.55,0,1,2,4,9],[7.85,0,2,3,5,6,8],[8.15,0,1,4,6,7,10],[8.45,0,2,3,5,9],
[8.75,0,1,2,4,6,8],[9.05,0,2,3,5,7],[9.35,0,1,4,6,9,10],[9.65,0,2,3,5,8],[9.95,0,1,2,4,7],[10.25,0,2,3,6,9,10],[10.55,0,1,4,5,8],
[10.85,0,2,3,6,7],[11.15,0,1,2,4,9],[11.45,0,2,3,5,8,10],[11.75,0,1,4,6,7],[12.05,0,2,3,5,9],[12.35,0,1,2,4,6,8],[12.65,0,2,3,5,7,10],
[12.95,0,1,4,6,9],[13.25,0,2,3,5,8],[13.55,0,1,2,4,7],[13.85,0,2,3,6,9,10],[14.15,0,1,4,5,8],[14.45,0,2,3,6,7],[14.75,0,1,2,4,9]
];
var hospitalSmoothL = [[-15,9.4],[-14,9.6],[-13,10.3],[-12,11],[-11,11.6],[-10.6,11.9],[-10,12],[-9,12.4],[-8,11.8],[-7.7,11.1],[-6.5,10.7],[-5,10.9],[-4.1,11.3],[-3,12],[-2.1,12.8],[-1,13.5],[-0.1,14.1]];
var hospitalSmoothR = [[0.2,9.5],[1,9.6],[2,9.5],[3,9],[4,8.5],[5,8.3],[6,8],[7,7.8],[8,7.5],[9,7.2],[10,7.5],[11,8],[12,8],[13,7.8],[14,7.4],[15,7]];

var roadLeft = [
[-14.8,5],[-14.7,3],[-14.7,2],[-14.4,3],[-14.4,23],[-14.1,8],[-14.1,12],[-14.1,10],[-14.1,6],[-14.1,5],[-14.1,3],[-14.1,2],[-14.1,1],[-13.6,15],
[-13.5,9],[-13.5,5],[-13.0,10],[-13.0,6],[-12.9,4.5],[-12.9,3],[-12.8,5],[-12.5,8],[-12.3,2],[-12.1,1],[-11.8,10],[-11.75,16],[-11.1,10],[-11.1,9],
[-11.1,8],[-11.1,1],[-10.9,2],[-10.8,6],[-10.7,5],[-10.7,4],[-10.6,20],[-10.6,10],[-10.5,6],[-10.4,4],[-10.3,3],[-10.1,6],[-9.9,8],[-9.8,8],[-9.7,8],
[-9.6,6],[-9.5,15],[-9.45,15],[-9.4,20],[-9.3,8],[-9.2,7],[-9.0,5],[-9.1,3],[-9.0,1],[-8.55,10],[-8.55,7],[-8.2,8],[-7.8,1],[-7.6,10],[-7.2,15],
[-7.2,9],[-7.2,8],[-7.0,5],[-7.0,4],[-6.95,5],[-7.0,3],[-6.85,2],[-6.65,4],[-6.4,8],[-6.2,8],[-6.1,6],[-5.7,8],[-5.5,4],[-5.3,5],[-5.3,20],[-5.1,40],
[-5.0,15],[-4.9,3],[-4.85,2],[-4.7,10],[-4.6,6],[-4.5,4],[-4.4,2],[-4.0,14],[-4.0,12],[-4.0,9],[-3.9,6],[-3.85,5],[-3.75,3],[-3.5,12],[-3.5,6],
[-3.45,4],[-3.2,4],[-3.0,15],[-3.1,10],[-2.9,10],[-2.9,5],[-2.8,8],[-2.8,6],[-2.6,4],[-2.4,4],[-2.2,6],[-2.0,6],[-1.8,6],[-1.7,5],[-1.6,2],[-1.25,15],
[-1.2,12],[-0.8,5],[-0.7,13],[-0.65,4],[-0.5,15],[-14.9,1],[-13.3,1],[-11.5,2],[-9.9,1],[-8.3,2],[-6.5,1],[-5.9,2],[-4.2,1],[-2.5,1],[-1.4,1]
];
var roadRight = [
[0.7,11],[1.0,12],[1.2,6],[1.5,3],[1.6,5],[2.0,2],[2.2,14],[2.4,60],[2.7,8],[3.3,5],[3.9,14],[4.4,3],[4.5,50],[5.3,4],[6.0,8],[6.7,15],[7.2,10],
[7.6,5],[8.0,3],[8.6,12],[9.0,2],[9.5,1],[10.1,6],[10.6,3],[11.3,12],[11.9,8],[12.2,5],[12.4,3],[12.7,10],[13.0,6],[13.4,15],[13.9,5],[14.2,2],
[14.5,15],[14.7,6],[14.9,3],[0.3,1],[0.5,2],[0.9,1],[1.3,2],[1.8,1],[2.6,1],[3.1,2],[3.6,1],[4.1,1],[4.8,2],[5.6,1],[6.3,2],[6.9,1],[7.4,2],
[8.2,1],[8.8,1],[9.8,2],[10.4,1],[11.0,2],[11.6,1],[12.0,2],[12.9,1],[13.2,2],[13.7,1],[14.0,3],[14.4,1],[14.8,2],[5.0,7],[5.7,3],[6.5,4],[8.3,4],[9.3,3],[10.8,5],[12.6,4],[13.5,8]
];
var roadZeroLeft = [-14.9,-14.7,-14.5,-14.3,-14.1,-13.9,-13.7,-13.5,-13.3,-13.1,-12.9,-12.7,-12.2,-12.0,-11.8,-11.6,-11.4,-11.2,-11.0,-10.8,-10.6,-10.4,-10.2,-10.0,-9.7,-9.5,-9.3,-9.1,-8.9,-8.7,-8.5,-8.3,-8.1,-7.9,-7.7,-7.5,-7.3,-7.1,-6.9,-6.7,-6.5,-6.3,-6.1,-5.8,-5.6,-5.4,-5.2,-5.0,-4.8,-4.6,-4.4,-4.2,-4.0,-3.8,-3.6,-3.4,-3.2,-3.0,-2.8,-2.6,-2.4,-2.2,-1.9,-1.7,-1.5,-1.3,-1.1,-0.9,-0.7];
var roadZeroRight = [0.1,0.3,0.5,0.7,0.9,1.1,1.3,1.5,1.7,1.9,2.1,2.3,2.5,2.7,2.9,3.1,3.3,3.5,3.7,3.9,4.1,4.3,4.5,4.7,4.9,5.1,5.3,5.5,5.7,5.9,6.1,6.3,6.5,6.7,6.9,7.1,7.3,7.5,7.7,7.9,8.1,8.3,8.5,8.7,8.9,9.1,9.3,9.5,9.7,9.9,10.1,10.3,10.5,10.7,10.9,11.1,11.3,11.5,11.7,11.9,12.1,12.3,12.5,12.7,12.9,13.1,13.3,13.5,13.7,13.9,14.1,14.3,14.5,14.7,14.9];
var roadSmoothL = [[-15,1.8],[-14,1.8],[-13,2.0],[-12,2.2],[-11,2.5],[-10,2.2],[-9,1.9],[-8,1.5],[-7.3,1.3],[-6.5,1.5],[-5.5,1.9],[-4.5,2.3],[-3.8,2.6],[-3,2.3],[-2,2.2],[-1,2.2],[-0.2,2.2]];
var roadSmoothR = [[0.2,1.2],[1,1.2],[2,1.1],[3,1.1],[4,1.0],[5,1.0],[6,0.9],[7,0.9],[8,0.8],[9,0.7],[10,0.6],[11,0.6],[12,0.7],[13,0.7],[14,0.8],[15,0.8]];

// bricked street / drainage: x positions of villages on each level
var streetL4 = [-12.4,-3.5,-2.0,-1.6,-1.4,-1.2,-0.8, 0.6,1.6,2.9,3.8,4.4,5.1,5.4,5.8,6.4,7.1,7.4,8.4,12.9,13.1,13.3,13.5,13.7,13.9,14.1,14.3,14.5,14.7,14.9];
var streetL3 = [-14.8,-14.6,-13.9,-13.7,-13.5,-13.0,-12.8,-12.6,-12.4,-12.2,-12.0,-11.7,-11.2,-10.0,-9.1,-8.8,-8.5,-8.2,-8.0,-7.8,-7.6,-7.4,-7.2,-7.0,-6.7,-6.4,-5.7,-5.1,-4.9,-4.7,-4.5,-4.3,-4.1,-3.9,-3.6,-3.3,-3.0,-2.7,-2.3,-2.0,-1.7,-1.4,-1.2,-1.0,-0.8,-0.5,
0.2,0.4,0.6,0.8,1.0,1.2,1.4,1.6,1.8,2.0,2.2,2.4,2.6,2.8,3.0,3.2,3.4,3.6,4.0,4.2,4.4,4.6,4.8,5.0,5.2,5.4,5.6,5.8,6.0,6.2,6.4,6.6,6.8,7.0,7.2,7.4,7.6,7.8,8.0,8.2,8.4,8.6,8.8,9.0,9.2,9.4,9.6,9.8,10.0,10.2,10.4,10.6,10.8,11.0,11.2,11.4,11.6,11.8,12.0,12.2,12.4,12.6,12.8,13.0,13.2,13.4,13.6,13.8,14.0,14.2,14.4,14.6,14.8,15.0];
var streetL2 = [-14.9,-14.7,-14.5,-14.3,-14.1,-13.9,-13.7,-13.5,-13.2,-13.0,-12.8,-12.3,-11.8,-11.6,-11.4,-11.2,-11.0,-10.8,-10.6,-10.4,-10.2,-10.0,-9.7,-9.5,-9.3,-9.1,-8.9,-8.7,-8.5,-8.3,-8.1,-7.9,-7.7,-7.5,-7.3,-7.1,-6.9,-6.7,-6.5,-6.3,-6.1,-5.7,-5.5,-5.3,-5.1,-4.9,-4.7,-4.5,-4.3,-4.1,-3.9,-3.3,-3.1,-2.9,-2.7,-2.5,-2.3,-2.1,-1.9,-1.6,-1.4,-1.2,-1.0,-0.8,-0.6,-0.4,
0.5,1.0,1.6,2.9,3.1,3.3,3.5,3.7,3.9,4.1,4.3,4.5,4.7,4.9,5.1,5.3,5.5,5.7,5.9,6.1,6.3,6.5,6.7,6.9,7.1,7.3,7.5,7.7,7.9,8.1,8.3,8.5,8.7,8.9,9.1,9.3,9.5,9.7,9.9,10.1,10.3,10.5,10.7,10.9,11.1,11.3,11.5,11.7,11.9,12.1,12.3,12.5,12.7,12.9,13.1,13.3,13.5,13.7,13.9,14.1,14.3,14.5,14.7,14.9];
var streetL1 = [-14.8,-14.6,-14.4,-14.2,-14.0,-13.8,-13.6,-13.4,-13.2,-13.0,-12.8,-12.6,-12.4,-12.2,-12.0,-11.8,-11.6,-11.2,-11.0,-10.8,-10.6,-10.4,-10.2,-10.0,-9.8,-9.6,-9.4,-9.2,-9.0,-8.8,-8.6,-8.4,-8.2,-8.0,-7.8,-7.6,-7.4,-7.2,-7.0,-6.8,-6.6,-6.4,-6.2,-6.0,-5.8,-5.6,-5.4,-5.2,-5.0,-4.8,-4.6,-4.3,-4.1,-3.9,-3.7,-3.5,-3.3,-3.1,-2.9,-2.5,-2.3,-2.1,-1.6,-1.1,-0.7,-0.3,
0.1,0.3,0.5,0.7,0.9,1.1,1.3,1.5,1.7,1.9,2.1,2.3,2.5,2.7,2.9,3.1,3.3,3.5,3.7,3.9,4.1,4.3,4.5,4.7,4.9,5.1,5.3,5.5,5.7,5.9,6.1,6.3,6.5,6.7,6.9,7.1,7.3,7.8,8.0,8.2,8.4,8.6,8.8,9.0,9.2,9.4,9.6,9.8,10.0,10.2,10.4,10.6,10.8,11.0,11.2,11.4,11.8,12.0,12.2,12.4,12.6,12.8,13.0,13.2,13.4,13.6,13.8,14.0,14.2,14.4,14.6,14.8,15.0];
var streetSmoothL = [[-14.85,1.58],[-14,1.6],[-13,1.59],[-12,1.56],[-11,1.53],[-10.5,1.53],[-9.5,1.52],[-8.5,1.54],[-7,1.58],[-6,1.6],[-5,1.62],[-4.5,1.63],[-4,1.7],[-3,1.78],[-2,1.86],[-1,1.93],[-0.1,2.05]];
var streetSmoothR = [[0.2,1.77],[1,1.79],[2,1.83],[3,1.9],[4,1.98],[5,2.03],[5.5,2.06],[6,2.05],[7,1.97],[8,1.96],[9,1.96],[10,1.95],[11,1.94],[12,1.97],[13,1.99],[14,2.0],[15,2.04]];

var drainL4 = [-14.8,-12.3,-11.0,-10.7,-3.4,-2.5,-2.0,-1.6,-1.3, 1.2,2.2,3.7,4.7,5.1,5.4,6.7,7.3,7.5,7.9,8.3,11.0,13.1,13.3,13.5,13.7,13.9,14.1,14.4,15.0];
var drainL3 = [-14.8,-14.6,-14.2,-14.0,-13.8,-13.3,-12.8,-11.2,-10.8,-10.6,-10.4,-9.6,-9.4,-9.2,-9.0,-8.8,-8.5,-8.0,-7.8,-7.6,-7.4,-7.2,-7.0,-6.8,-6.2,-6.0,-5.6,-5.4,-5.2,-5.0,-4.8,-4.6,-4.0,-3.8,-3.6,-3.4,-3.2,-3.0,-2.8,-2.4,-2.2,-2.0,-1.8,-1.6,-1.4,-1.2,-1.0,-0.8,-0.6,-0.4,
0.4,0.6,0.8,1.0,1.2,1.4,1.6,1.8,2.0,2.2,2.4,2.6,2.8,3.0,3.2,3.4,3.7,4.1,4.3,4.5,4.7,4.9,5.1,5.3,5.5,5.9,6.1,6.3,6.5,6.7,6.9,7.1,7.3,7.5,7.7,7.9,8.1,8.3,8.6,9.3,9.5,9.7,9.9,10.1,10.4,10.6,10.8,11.0,11.2,11.4,11.6,11.8,12.0,12.2,12.4,12.6,12.9,13.3,13.5,13.7,13.9,14.1,14.3,14.5,14.7,15.0];
var drainL2 = [-14.9,-14.7,-14.5,-14.3,-14.1,-13.6,-13.4,-13.2,-12.0,-11.8,-11.6,-10.9,-10.3,-10.1,-9.9,-9.7,-9.5,-9.3,-8.6,-8.4,-7.8,-7.6,-7.4,-7.2,-7.0,-6.8,-6.6,-6.0,-5.8,-5.6,-5.0,-4.8,-4.6,-4.0,-3.4,-3.2,-3.0,-2.8,-2.6,-2.4,-1.8,-1.6,-1.4,-1.2,-1.0,-0.8,-0.6,-0.4,
0.7,0.9,1.7,1.9,2.1,2.3,2.5,2.7,2.9,3.1,3.3,3.6,3.9,4.1,4.9,5.1,5.4,6.2,6.4,6.6,6.8,7.0,7.2,7.4,7.6,7.8,8.0,8.2,8.4,8.6,8.8,9.0,9.3,9.7,9.9,10.1,10.4,10.7,10.9,11.1,11.3,11.5,11.7,11.9,12.1,12.3,12.5,12.7,12.9,13.0,13.2,13.4,13.6,13.8,14.0,14.2,14.4,14.6,14.8,15.0];
var drainL1 = [-14.9,-14.7,-14.5,-14.3,-14.1,-13.9,-13.7,-13.5,-13.3,-13.1,-12.8,-12.6,-12.4,-12.2,-12.0,-11.8,-11.6,-11.4,-11.2,-11.0,-10.8,-10.6,-10.4,-10.0,-9.8,-9.6,-9.4,-9.2,-9.0,-8.8,-8.6,-8.4,-8.2,-8.0,-7.8,-7.6,-7.4,-7.2,-7.0,-6.8,-6.6,-6.4,-6.2,-6.0,-5.6,-5.4,-5.2,-5.0,-4.8,-4.6,-4.4,-4.2,-4.0,-3.8,-3.6,-3.4,-3.2,-3.0,-2.8,-2.6,-2.4,-2.0,-1.8,-1.6,-1.4,-1.2,-1.0,-0.8,-0.6,-0.3,
0.1,0.3,0.5,0.7,0.9,1.1,1.3,1.5,1.7,1.9,2.1,2.4,2.6,2.8,3.0,3.2,3.4,3.6,3.8,4.0,4.2,4.4,4.6,4.8,5.0,5.3,5.6,5.8,6.0,6.2,6.4,6.6,6.8,7.0,7.2,7.4,7.6,7.8,8.0,8.2,8.4,8.6,8.8,9.0,9.2,9.4,9.6,9.8,10.0,10.2,10.4,10.6,10.8,11.0,11.2,11.4,11.6,12.2,12.4,12.6,12.8,13.0,13.2,13.4,13.6,13.8,14.0,14.2,14.4,14.6,14.8,15.0];
var drainSmoothL = [[-15,1.38],[-14,1.4],[-13,1.39],[-12,1.38],[-11,1.36],[-10,1.36],[-9,1.37],[-8,1.39],[-7,1.41],[-6,1.43],[-5,1.43],[-4.5,1.43],[-4,1.46],[-3,1.52],[-2,1.58],[-1,1.65],[-0.2,1.74]];
var drainSmoothR = [[0.1,1.71],[1.2,1.71],[2,1.75],[3.3,1.8],[4,1.85],[5.1,1.9],[6,1.9],[7,1.9],[8,1.89],[9,1.88],[10,1.86],[11,1.84],[12,1.85],[13,1.87],[14,1.86],[15,1.85]];

// ---- helpers ----
function cols(c){
	var out = [];
	for(var i = 0; i < c.length; i++){
		for(var j = 1; j < c[i].length; j++) out.push([c[i][0], c[i][j]]);
	}
	return out;
}
function level(xs, y){
	return xs.map(function(x){ return [x, y]; });
}

// ---- layout ----
var colGeom = [
	{gx0: 6, gx1: 570, axisX: 52, plotX1: 568, xr: [61, 555]},
	{gx0: 575, gx1: 1136, axisX: 618, plotX1: 1133, xr: [628, 1118]}
];
var rowGeom = [
	{gy0: 6, gy1: 385, plotY0: 10, axisY: 364},
	{gy0: 388, gy1: 757, plotY0: 390, axisY: 743},
	{gy0: 761, gy1: 1142, plotY0: 767, axisY: 1125},
	{gy0: 1146, gy1: 1546, plotY0: 1150, axisY: 1507}
];

var thick = {w: 3.2, l: "#9b2a2e", r: "#5a7b29"};
var thin3 = {w: 1.3, l: "#c44a4f", r: "#8c9a4a"};
var thin4 = {w: 1.4, l: "#b5606b", r: "#8e9866"};

var panels = [
	{col: 0, row: 0, title: "Literacy Rate", dom: [0, 1], yr: [354, 20], ticks: [0, .2, .4, .6, .8, 1],
	 pts: cols(literacyLeft).concat(cols(literacyRight)), sl: literacySmoothL, sr: literacySmoothR, st: thick},
	{col: 1, row: 0, title: "Schooling Attainment", dom: [0, 2.5], yr: [355, 22], ticks: [0, .5, 1, 1.5, 2, 2.5],
	 pts: cols(schoolingLeft).concat(cols(schoolingRight)), sl: schoolingSmoothL, sr: schoolingSmoothR, st: thick},
	{col: 0, row: 1, title: "Access to Piped Water", dom: [0, 1], yr: [733, 399], ticks: [0, .2, .4, .6, .8, 1],
	 pts: pipedLeft.concat(pipedRight, cols(pipedLowLeft), cols(pipedLowRight), level(pipedZeroLeft, 0), level(pipedZeroRight, 0)),
	 sl: pipedSmoothL, sr: pipedSmoothR, st: thick},
	{col: 1, row: 1, title: "Access to Electricity", dom: [0, 1], yr: [734, 401], ticks: [0, .2, .4, .6, .8, 1],
	 pts: cols(electricityLeft).concat(cols(electricityRight), level(electricityZeroLeft, 0), level(electricityZeroRight, 0)),
	 sl: electricitySmoothL, sr: electricitySmoothR, st: thick},
	{col: 0, row: 2, title: "Distance to the Closest Hospital", dom: [0, 80], yr: [1114, 797], ticks: [0, 20, 40, 60, 80],
	 pts: cols(hospitalLeft).concat(cols(hospitalRight), cols(hospitalDenseLeft), cols(hospitalDenseRight)),
	 sl: hospitalSmoothL, sr: hospitalSmoothR, st: thin3},
	{col: 1, row: 2, title: "Distance to the Closest Road", dom: [0, 60], yr: [1115, 779], ticks: [0, 20, 40, 60],
	 pts: roadLeft.concat(roadRight, level(roadZeroLeft, 0), level(roadZeroRight, 0)), sl: roadSmoothL, sr: roadSmoothR, st: thin3},
	{col: 0, row: 3, title: "Bricked Street", dom: [1, 4], yr: [1497, 1159], ticks: [1, 2, 3, 4],
	 pts: level(streetL1, 1).concat(level(streetL2, 2), level(streetL3, 3), level(streetL4, 4)), sl: streetSmoothL, sr: streetSmoothR, st: thin4, xTitle: true},
	{col: 1, row: 3, title: "Bricked Drainage", dom: [1, 4], yr: [1498, 1162], ticks: [1, 2, 3, 4],
	 pts: level(drainL1, 1).concat(level(drainL2, 2), level(drainL3, 3), level(drainL4, 4)), sl: drainSmoothL, sr: drainSmoothR, st: thin4, xTitle: true}
];

var svg = d3.select("#chart");
svg.append("rect").attr("width", 1138).attr("height", 1549).attr("fill", "#fff");

function fmt(v){
	var s = String(v);
	if(s.indexOf("0.") === 0) s = s.slice(1);
	return s;
}

function drawPanel(p){
	var c = colGeom[p.col], r = rowGeom[p.row];
	var g = svg.append("g");
	var x = d3.scaleLinear().domain([-15, 15]).range(c.xr);
	var y = d3.scaleLinear().domain(p.dom).range(p.yr);

	// graph region and plot region
	g.append("rect").attr("x", c.gx0).attr("y", r.gy0).attr("width", c.gx1 - c.gx0).attr("height", r.gy1 - r.gy0).attr("fill", "#e9eff2");
	g.append("rect").attr("x", c.axisX).attr("y", r.plotY0).attr("width", c.plotX1 - c.axisX).attr("height", r.axisY - r.plotY0)
		.attr("fill", "#fff").attr("stroke", "#f3f6f8");

	// gridlines
	g.selectAll(".grid").data(p.ticks).enter().append("line")
		.attr("x1", c.axisX).attr("x2", c.plotX1)
		.attr("y1", function(d){ return Math.round(y(d)) + 0.5; })
		.attr("y2", function(d){ return Math.round(y(d)) + 0.5; })
		.attr("stroke", "#e3ebee").attr("stroke-width", 1);

	// points
	g.append("g").selectAll("circle").data(p.pts).enter().append("circle")
		.attr("cx", function(d){ return x(d[0]); })
		.attr("cy", function(d){ return y(d[1]); })
		.attr("r", 1.7)
		.attr("fill", "#1d3e6b");

	// boundary line
	g.append("line").attr("x1", x(0)).attr("x2", x(0)).attr("y1", r.plotY0).attr("y2", r.axisY)
		.attr("stroke", "#d9325e").attr("stroke-width", 1.3);

	// smoothed fits
	var line = d3.line().curve(d3.curveMonotoneX)
		.x(function(d){ return x(d[0]); })
		.y(function(d){ return y(d[1]); });
	g.append("path").datum(p.sl).attr("d", line).attr("fill", "none")
		.attr("stroke", p.st.l).attr("stroke-width", p.st.w).attr("stroke-linejoin", "round");
	g.append("path").datum(p.sr).attr("d", line).attr("fill", "none")
		.attr("stroke", p.st.r).attr("stroke-width", p.st.w).attr("stroke-linejoin", "round");

	// axes
	var xAxis = g.append("g").attr("transform", "translate(0," + r.axisY + ")")
		.call(d3.axisBottom(x).tickValues(xTicks).tickSize(5).tickPadding(4).tickFormat(d3.format("d")));
	xAxis.select(".domain").remove();
	var yAxis = g.append("g").attr("transform", "translate(" + c.axisX + ",0)")
		.call(d3.axisLeft(y).tickValues(p.ticks).tickSize(5).tickFormat(fmt));
	yAxis.select(".domain").remove();
	yAxis.selectAll("text").attr("x", 0).attr("y", -14).attr("dy", 0)
		.attr("transform", "rotate(-90)").style("text-anchor", "middle");
	[xAxis, yAxis].forEach(function(a){
		a.selectAll("line").attr("stroke", "#555");
		a.selectAll("text").attr("fill", "#333").style("font-size", "14px")
			.style("font-family", "'Liberation Sans', Arial, sans-serif");
	});
	g.append("line").attr("x1", c.axisX).attr("x2", c.plotX1).attr("y1", r.axisY + 0.5).attr("y2", r.axisY + 0.5)
		.attr("stroke", "#555");
	g.append("line").attr("x1", c.axisX + 0.5).attr("x2", c.axisX + 0.5).attr("y1", r.plotY0).attr("y2", r.axisY + 1)
		.attr("stroke", "#555");

	// titles
	var cy = (r.plotY0 + r.axisY) / 2;
	g.append("text").attr("transform", "translate(" + (c.axisX - 27) + "," + cy + ") rotate(-90)")
		.attr("text-anchor", "middle").attr("fill", "#333").style("font-size", "14px").text(p.title);
	if(p.xTitle){
		g.append("text").attr("x", (c.axisX + c.plotX1) / 2).attr("y", r.axisY + 35)
			.attr("text-anchor", "middle").attr("fill", "#333").style("font-size", "14px")
			.text("Distance to the FCR Boundary (km)");
	}
}

panels.forEach(drawPanel);
</script>
</body>
</html>
